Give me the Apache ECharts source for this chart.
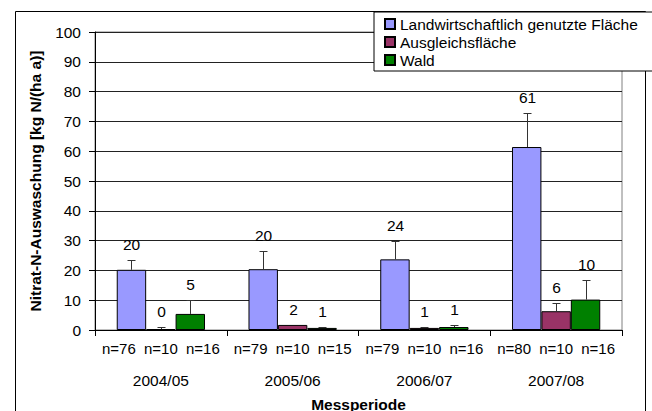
<!DOCTYPE html>
<html>
<head>
<meta charset="utf-8">
<script src="https://cdn.jsdelivr.net/npm/echarts@6/dist/echarts.min.js"></script>
<style>
  html, body { margin: 0; padding: 0; background: #fff; }
  #chart01 { width: 652px; height: 411px; }
</style>
</head>
<body>
<div id="chart01"></div>
<script>
var categories = ['2004/05', '2005/06', '2006/07', '2007/08'];
var seriesNames = ['Landwirtschaftlich genutzte Fläche', 'Ausgleichsfläche', 'Wald'];

// Mittelwerte
var landwValues = [20.2, 20.4, 23.7, 61.4];
var ausglValues = [0.3, 1.7, 0.7, 6.3];
var waldValues = [5.4, 0.7, 1.0, 10.2];

// Fehlerbalken (nur nach oben)
var landwErr = [3.3, 6.2, 6.2, 11.4];
var ausglErr = [0.7, 0, 0.3, 2.9];
var waldErr = [4.8, 0.4, 0.8, 6.5];

// Stichprobenumfang
var landwN = [76, 79, 79, 80];
var ausglN = [10, 10, 10, 10];
var waldN = [16, 15, 16, 16];

var yTicks = [0, 10, 20, 30, 40, 50, 60, 70, 80, 90, 100];

var colors = ['#9999ff', '#993366', '#008000'];
var FONT = 'Liberation Sans, Arial, sans-serif';
var GAP = 0.33;

function barSeries(name, color, values) {
    return {
        name: name,
        type: 'bar',
        barGap: 0,
        barCategoryGap: (GAP * 100) + '%',
        itemStyle: {
            color: color,
            borderColor: '#000',
            borderWidth: 1
        },
        data: values
    };
}

function errSeries(name, idx, values, errs) {
    return {
        name: name,
        type: 'custom',
        z: 3,
        renderItem: function (params, api) {
            var base = api.coord([api.value(0), api.value(1)]);
            var top = api.coord([api.value(0), api.value(1) + api.value(2)]);
            var band = api.size([1, 0])[0];
            var bw = band * (1 - GAP) / 3;
            var x = Math.round(base[0] + (idx - 1) * bw) + 0.5;
            var y0 = base[1];
            var y1 = Math.round(top[1]) + 0.5;
            var kids = [];
            if (api.value(2) > 0) {
                kids.push({
                    type: 'line',
                    shape: { x1: x, y1: y0, x2: x, y2: y1 },
                    style: { stroke: '#333', lineWidth: 1 }
                });
                kids.push({
                    type: 'line',
                    shape: { x1: x - 4, y1: y1, x2: x + 4, y2: y1 },
                    style: { stroke: '#333', lineWidth: 1 }
                });
            }
            kids.push({
                type: 'text',
                style: {
                    text: String(Math.round(api.value(1))),
                    x: x,
                    y: y1 - 8,
                    align: 'center',
                    verticalAlign: 'bottom',
                    fill: '#000',
                    font: '15.5px ' + FONT
                }
            });
            return { type: 'group', children: kids };
        },
        data: categories.map(function (c, i) { return [i, values[i], errs[i]]; })
    };
}

function chart01(id) {
    var myChart = echarts.init(document.getElementById(id), null, { renderer: 'svg' });
    var option = {
        animation: false,
        backgroundColor: '#fff',
        textStyle: { fontFamily: FONT },
        graphic: [{
            type: 'rect',
            shape: { x: 15.5, y: 11.5, width: 630, height: 420 },
            style: { fill: 'none', stroke: '#000', lineWidth: 1 },
            z: -1
        }],
        legend: {
            orient: 'vertical',
            left: 374,
            top: 12,
            padding: [4, 18, 3, 10],
            itemWidth: 10,
            itemHeight: 10,
            itemGap: 2,
            icon: 'rect',
            backgroundColor: '#fff',
            borderColor: '#000',
            borderWidth: 1,
            z: 10,
            textStyle: {
                fontSize: 15.5,
                lineHeight: 15.5,
                color: '#000'
            },
            data: seriesNames
        },
        grid: {
            left: 95,
            right: 30,
            top: 32,
            bottom: 81,
            outerBoundsMode: 'none',
            containLabel: false,
            show: true,
            borderColor: '#808080',
            borderWidth: 1
        },
        xAxis: {
            type: 'category',
            data: categories,
            name: 'Messperiode',
            nameLocation: 'middle',
            nameGap: 66,
            nameMoveOverlap: false,
            nameTextStyle: { fontSize: 15.5, fontWeight: 'bold', color: '#000' },
            axisLine: { lineStyle: { color: '#000' } },
            axisTick: { show: true, length: 6, interval: 0, lineStyle: { color: '#000' } },
            axisLabel: {
                interval: 0,
                margin: 11,
                color: '#000',
                formatter: function (v, i) {
                    return '{n|n=' + landwN[i] + '}{n|n=' + ausglN[i] + '}{n|n=' + waldN[i] + '}\n{y|' + v + '}';
                },
                rich: {
                    n: { fontSize: 15, lineHeight: 15, width: 42, align: 'center', color: '#000' },
                    y: { fontSize: 15.5, lineHeight: 49, color: '#000' }
                }
            }
        },
        yAxis: {
            type: 'value',
            min: 0,
            max: 100,
            interval: 10,
            name: 'Nitrat-N-Auswaschung [kg N/(ha a)]',
            nameLocation: 'middle',
            nameGap: 52,
            nameMoveOverlap: false,
            nameTextStyle: { fontSize: 15.5, fontWeight: 'bold', color: '#000' },
            axisLine: { show: true, lineStyle: { color: '#000' } },
            axisTick: { show: true, length: 6, lineStyle: { color: '#000' } },
            axisLabel: {
                fontSize: 15.5,
                color: '#000',
                margin: 14,
                formatter: function (v) { return yTicks.indexOf(v) >= 0 ? String(v) : ''; }
            },
            splitLine: { show: true, lineStyle: { color: '#222', width: 1 } }
        },
        series: [
            barSeries(seriesNames[0], colors[0], landwValues),
            barSeries(seriesNames[1], colors[1], ausglValues),
            barSeries(seriesNames[2], colors[2], waldValues),
            errSeries(seriesNames[0], 0, landwValues, landwErr),
            errSeries(seriesNames[1], 1, ausglValues, ausglErr),
            errSeries(seriesNames[2], 2, waldValues, waldErr)
        ]
    };

    myChart.setOption(option);
    return myChart;
}

var chartInit01 = chart01('chart01');
window.addEventListener('resize', function () {
    chartInit01.resize();
});
</script>
</body>
</html>
